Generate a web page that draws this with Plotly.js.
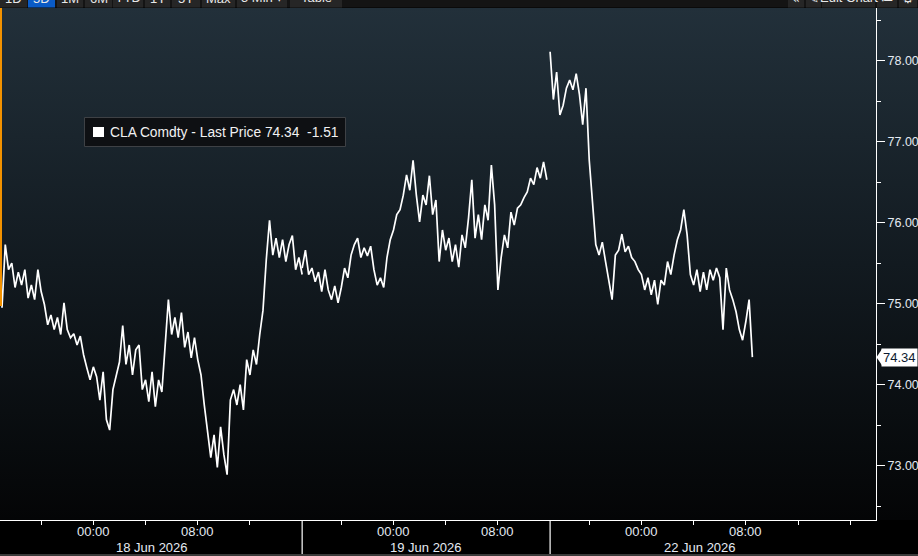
<!DOCTYPE html>
<html><head><meta charset="utf-8">
<script src="https://cdn.plot.ly/plotly-3.0.1.min.js"></script>
<style>html,body{margin:0;padding:0;background:#000;overflow:hidden}#chart{width:918px;height:556px}</style>
</head><body><div id="chart"></div>
<script>
// ---------------- data ----------------
const sessionStartHours = [0, 23, 42];   // trading-time hours (gaps removed), 17:00 session opens
const barStepHours = 0.25;
const session1Prices = [74.95,75.73,75.42,75.50,75.20,75.39,75.23,75.42,75.07,75.23,75.05,75.42,75.15,74.99,74.74,74.86,74.68,74.83,74.62,75.01,
  74.68,74.58,74.63,74.49,74.60,74.37,74.21,74.06,74.22,74.10,73.81,74.16,73.57,73.44,73.94,74.12,74.28,74.73,74.25,74.49,
  74.12,74.43,74.49,73.94,74.06,73.79,74.16,73.73,74.06,73.91,74.49,75.05,74.62,74.83,74.58,74.89,74.46,74.65,74.33,74.58,
  74.31,74.12,73.75,73.44,73.10,73.38,72.98,73.48,73.14,72.89,73.81,73.94,73.75,74.00,73.69,74.31,74.12,74.43,74.25,74.62,
  74.92,75.54,76.03,75.60,75.81,75.57,75.79,75.52,75.73,75.84,75.42,75.57,75.36];
const session2Prices = [75.44,75.66,75.36,75.44,75.27,75.39,75.15,75.42,75.17,75.05,75.22,75.01,75.20,75.44,75.32,75.60,75.73,75.81,75.57,75.69,
  75.59,75.71,75.42,75.23,75.32,75.20,75.57,75.79,75.91,76.10,76.16,76.34,76.59,76.40,76.77,76.34,76.01,76.34,76.22,76.58,
  76.10,76.28,75.52,75.91,75.66,75.81,75.52,75.73,75.45,75.85,75.69,76.06,76.53,75.81,76.10,75.79,76.22,76.03,76.71,76.22,
  75.17,75.57,75.85,75.69,76.13,75.97,76.18,76.22,76.31,76.38,76.55,76.47,76.68,76.55,76.75,76.53];
const session3Prices = [78.11,77.52,77.86,77.33,77.45,77.66,77.76,77.64,77.84,77.58,77.21,77.66,76.77,76.22,75.73,75.60,75.76,75.52,75.29,75.05,
  75.60,75.66,75.86,75.64,75.71,75.57,75.52,75.42,75.36,75.17,75.32,75.11,75.29,74.99,75.29,75.23,75.52,75.36,75.60,75.79,
  75.91,76.16,75.85,75.36,75.23,75.42,75.15,75.39,75.17,75.42,75.29,75.44,75.32,74.68,75.44,75.17,75.05,74.90,74.68,74.55,
  74.78,75.05,74.34];
const sessionDates = ['18 Jun 2026', '19 Jun 2026', '22 Jun 2026'];
const sessionMidHours = [11.5, 32.5, 53.5];
const sessionBreakHours = [23, 42];
const timeTickHours = [3, 7, 11, 15, 19, 26, 30, 34, 38, 45, 49, 53, 57, 61, 65];
const timeTickLabels = ['', '00:00', '', '08:00', '', '', '00:00', '', '08:00', '', '00:00', '', '08:00', '', ''];
const priceRange = [72.33, 78.65];
const lastPrice = 74.34;
const priceChange = -1.51;
const seriesName = 'CLA Comdty - Last Price';
const toolbarButtons = ['1D', '5D', '1M', '6M', 'YTD', '1Y', '5Y', 'Max', '5 Min \u25BE', 'Table'];
const toolbarRight = ['\u00AB', '\u270E', 'Edit Chart', '\u2254', '\u2699'];

// ---------------- layout helpers (pixel geometry) ----------------
const W = 918, H = 556, ML = 0, MR = 42, MT = 8, MB = 36;
const PW = W - ML - MR, PH = H - MT - MB;
const px = X => (X - ML) / PW;
const py = Y => (H - MB - Y) / PH;
const sessionPrices = [session1Prices, session2Prices, session3Prices];

const traces = sessionPrices.map((prices, s) => ({
  type: 'scatter', mode: 'lines',
  x: prices.map((_, i) => sessionStartHours[s] + i * barStepHours),
  y: prices,
  line: { color: '#ffffff', width: 1.7 },
  hoverinfo: 'skip', showlegend: false
}));

// background gradient
const cv = document.createElement('canvas');
cv.width = W; cv.height = PH;
const ctx = cv.getContext('2d');
const g = ctx.createLinearGradient(0, 0, 0, PH);
g.addColorStop(0, '#22303a');
g.addColorStop(0.5, '#121a20');
g.addColorStop(1, '#040506');
ctx.fillStyle = g; ctx.fillRect(0, 0, W, PH);
const bgUrl = cv.toDataURL('image/png');

const txt = '#e4eaf2';
const font = 'Liberation Sans, Arial, sans-serif';
const shapes = [];
const annotations = [];

// toolbar
shapes.push({ type: 'rect', xref: 'paper', yref: 'paper', x0: px(0), x1: px(W), y0: py(7.5), y1: py(-2), fillcolor: '#141414', line: { width: 0 }, layer: 'above' });
const btnExtents = [[0, 27], [28, 55], [57, 83], [85, 112], [113, 143], [145, 170], [172, 200], [202, 235], [237, 287], [290, 342]];
toolbarButtons.forEach((b, i) => {
  const [a, c] = btnExtents[i];
  shapes.push({ type: 'rect', xref: 'paper', yref: 'paper', x0: px(a), x1: px(c), y0: py(7.5), y1: py(-2),
    fillcolor: i === 1 ? '#0a5bc6' : '#262626', line: { width: 0 }, layer: 'above' });
  annotations.push({ xref: 'paper', yref: 'paper', x: px((a + c) / 2), y: py(7.5), xanchor: 'center', yanchor: 'bottom',
    text: b, showarrow: false, font: { family: font, size: 13, color: '#e8e8e8' } });
});
const rightExtents = [[788, 804], [806, 821], [822, 875], [877, 897], [899, 917]];
toolbarRight.forEach((b, i) => {
  const [a, c] = rightExtents[i];
  shapes.push({ type: 'rect', xref: 'paper', yref: 'paper', x0: px(a), x1: px(c), y0: py(7.5), y1: py(-2),
    fillcolor: '#262626', line: { width: 0 }, layer: 'above' });
  annotations.push({ xref: 'paper', yref: 'paper', x: px((a + c) / 2), y: py(7.5), xanchor: 'center', yanchor: 'bottom',
    text: b, showarrow: false, font: { family: i === 2 ? font : 'DejaVu Sans', size: 13, color: '#e8e8e8' } });
});

// left orange marker
shapes.push({ type: 'rect', xref: 'paper', yref: 'paper', x0: px(0), x1: px(2), y0: py(306), y1: py(8), fillcolor: '#f39200', line: { width: 0 }, layer: 'above' });

// session separators below the time axis
sessionBreakHours.forEach(h => shapes.push({ type: 'line', xref: 'x', yref: 'paper', x0: h, x1: h, y0: py(H), y1: py(H - MB), line: { color: '#ffffff', width: 1.2 } }));
// bottom border
shapes.push({ type: 'line', xref: 'paper', yref: 'paper', x0: 0, x1: px(W), y0: py(555), y1: py(555), line: { color: '#3a3a3a', width: 2 } });

// time-of-day labels
timeTickHours.forEach((h, i) => {
  if (timeTickLabels[i]) annotations.push({ xref: 'x', yref: 'paper', x: h, y: py(531), yanchor: 'middle',
    text: timeTickLabels[i], showarrow: false, font: { family: font, size: 13, color: txt } });
});
// date labels
sessionDates.forEach((d, s) => annotations.push({ xref: 'x', yref: 'paper', x: sessionMidHours[s], y: py(547), yanchor: 'middle',
  text: d, showarrow: false, font: { family: font, size: 13, color: txt } }));

// legend box
shapes.push({ type: 'rect', xref: 'paper', yref: 'paper', x0: px(84.5), x1: px(345.5), y0: py(146.5), y1: py(117.5),
  fillcolor: '#0e1013', line: { color: '#3e4145', width: 1 }, layer: 'above' });
shapes.push({ type: 'rect', xref: 'paper', yref: 'paper', x0: px(93), x1: px(104), y0: py(137), y1: py(127), fillcolor: '#ffffff', line: { width: 0 }, layer: 'above' });
annotations.push({ xref: 'paper', yref: 'paper', x: px(107.5), y: py(132), xanchor: 'left', yanchor: 'middle',
  text: seriesName + ' ' + lastPrice.toFixed(2) + '\u00a0\u00a0' + priceChange.toFixed(2), showarrow: false,
  font: { family: font, size: 13.8, color: '#f2f2f2' } });

// last price tag
annotations.push({ xref: 'paper', yref: 'y', x: 1, y: lastPrice, xanchor: 'left', yanchor: 'middle', xshift: 5,
  text: lastPrice.toFixed(2), showarrow: false, bgcolor: '#ffffff', borderpad: 1,
  font: { family: font, size: 13, color: '#0c1a30' } });
shapes.push({ type: 'path', xref: 'paper', yref: 'y', layer: 'above',
  path: `M ${px(876.5)},${lastPrice} L ${px(882)},${lastPrice + 0.1} L ${px(882)},${lastPrice - 0.1} Z`,
  fillcolor: '#ffffff', line: { width: 0 } });

const layout = {
  width: W, height: H,
  margin: { l: ML, r: MR, t: MT, b: MB, pad: 0 },
  paper_bgcolor: '#000000', plot_bgcolor: 'rgba(0,0,0,0)',
  showlegend: false,
  font: { family: font, color: txt, size: 13 },
  images: [{ source: bgUrl, xref: 'paper', yref: 'paper', x: 0, y: 1, sizex: W / PW, sizey: 1,
    xanchor: 'left', yanchor: 'top', sizing: 'stretch', layer: 'below' }],
  xaxis: {
    type: 'linear', range: [-2 / 13.05, (PW - 2) / 13.05], fixedrange: true,
    showgrid: false, zeroline: false, showline: true, linecolor: '#ffffff', linewidth: 1,
    ticks: 'outside', ticklen: 4, tickcolor: '#ffffff', tickwidth: 1,
    tickmode: 'array', tickvals: timeTickHours, ticktext: timeTickLabels, showticklabels: false
  },
  yaxis: {
    side: 'right', range: priceRange, fixedrange: true,
    showgrid: false, zeroline: false, showline: true, linecolor: '#ffffff', linewidth: 1,
    ticks: 'outside', ticklen: 8, tickcolor: '#ffffff', tickwidth: 1,
    tick0: 73, dtick: 1, tickformat: '.2f',
    minor: { dtick: 0.5, tick0: 72.5, ticks: 'outside', ticklen: 4, tickcolor: '#ffffff', showgrid: false },
    tickfont: { family: font, size: 12.5, color: txt }
  },
  shapes: shapes,
  annotations: annotations
};

Plotly.newPlot('chart', traces, layout, { displayModeBar: false, staticPlot: true });
</script>
</body></html>
